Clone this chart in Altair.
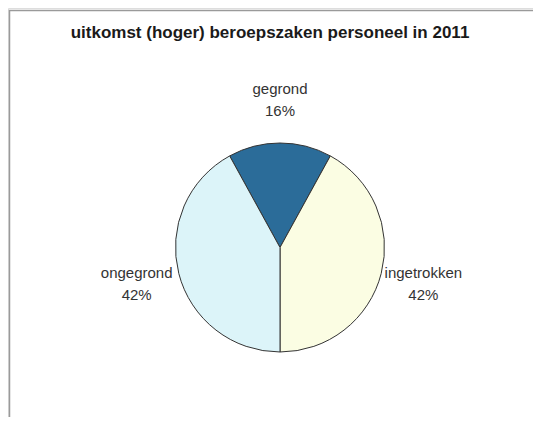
import math
import altair as alt
import pandas as pd

title_text = "uitkomst (hoger) beroepszaken personeel in 2011"
categories = ["gegrond", "ingetrokken", "ongegrond"]
values = [16, 42, 42]
colors = ["#2b6c99", "#fbfde3", "#dcf4f9"]

df = pd.DataFrame({
    "cat": categories,
    "value": values,
    "idx": list(range(len(categories))),
})
df["label"] = df["cat"] + "\n" + df["value"].astype(str) + "%"

start = -2 * math.pi * values[0] / 200.0
theta_scale = alt.Scale(range=[start, start + 2 * math.pi])

cx, cy = 272, 239.5

base = alt.Chart(df).encode(
    theta=alt.Theta("value:Q", stack=True, scale=theta_scale),
    order=alt.Order("idx:O"),
    x=alt.value(cx),
    y=alt.value(cy),
)

pie = base.mark_arc(outerRadius=104.5, stroke="#333333", strokeWidth=1).encode(
    color=alt.Color("cat:N", scale=alt.Scale(domain=categories, range=colors), legend=None)
)

labels = base.mark_text(
    radius=148, dy=-11, lineBreak="\n", lineHeight=22, align="center", baseline="middle",
    font="Liberation Sans", fontSize=15, color="#333333",
).encode(text="label:N")

title_df = pd.DataFrame({"t": [title_text]})
title = alt.Chart(title_df).mark_text(
    font="Liberation Sans", fontSize=17, fontWeight="bold", color="#1a1a1a",
    align="center", baseline="alphabetic",
).encode(text="t:N", x=alt.value(262), y=alt.value(29.5))

border = alt.Chart(title_df).mark_rect(fill=None, stroke="#9a9a9a", strokeWidth=1.5).encode(
    x=alt.value(1.5), x2=alt.value(700), y=alt.value(2.5), y2=alt.value(700)
)

chart = alt.layer(border, pie, labels, title).properties(
    width=525, height=409, padding=0, autosize=alt.AutoSizeParams(type="none")
).configure_view(stroke=None).configure(background="white")

chart.save("out.html", embed_options={"renderer": "svg", "actions": False})
